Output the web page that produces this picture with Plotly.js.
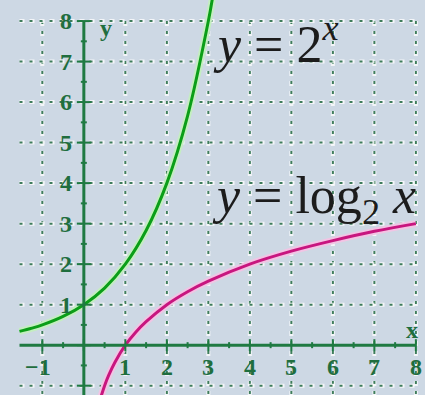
<!DOCTYPE html>
<html>
<head>
<meta charset="utf-8">
<script src="https://cdn.plot.ly/plotly-3.0.1.min.js"></script>
<style>
  html, body { margin: 0; padding: 0; background: #cdd8e4; }
  #chart { width: 425px; height: 395px; }
</style>
</head>
<body>
<div id="chart"></div>
<script>
// Sampled points of y = 2^x
const expX = [-1.55, -1.25, -1, -0.5, 0, 0.5, 1, 1.5, 2, 2.5, 3, 3.1];
const expY = [0.34, 0.42, 0.5, 0.71, 1, 1.41, 2, 2.83, 4, 5.66, 8, 8.57];

// Sampled points of y = log2 x
const logX = [0.42, 0.5, 0.6, 0.75, 1, 1.25, 1.5, 2, 2.5, 3, 4, 5, 6, 7, 8];
const logY = [-1.25, -1, -0.74, -0.42, 0, 0.32, 0.58, 1, 1.32, 1.58, 2, 2.32, 2.58, 2.81, 3];

// Tick labels
const xTickVals = [-1, 1, 2, 3, 4, 5, 6, 7, 8];
const xTickText = ['\u22121', '1', '2', '3', '4', '5', '6', '7', '8'];
const yTickVals = [1, 2, 3, 4, 5, 6, 7, 8];
const yTickText = ['1', '2', '3', '4', '5', '6', '7', '8'];

// Grid extents
const gridXMin = -1.55, gridXMax = 8, gridYMin = -1.35, gridYMax = 8;
const gridXs = [-1, 1, 2, 3, 4, 5, 6, 7, 8];
const gridYs = [-1, 1, 2, 3, 4, 5, 6, 7, 8];

const axisColor = '#1f7a42';
const gridColor = '#3f7d5c';
const labelColor = '#1f6e3e';

const shapes = [];

// dotted grid with a light halo under each dot
function gridLine(x0, y0, x1, y1) {
  shapes.push({type: 'line', xref: 'x', yref: 'y', x0, y0, x1, y1, layer: 'below',
    line: {color: 'rgba(255,255,255,0.75)', width: 4, dash: '5px,5px'}});
  shapes.push({type: 'line', xref: 'x', yref: 'y', x0, y0, x1, y1, layer: 'below',
    line: {color: gridColor, width: 2, dash: '3px,7px'}});
}
gridXs.forEach(v => gridLine(v, gridYMax, v, gridYMin));
gridYs.forEach(v => gridLine(gridXMin, v, gridXMax, v));

// axes
shapes.push({type: 'line', xref: 'x', yref: 'y', x0: gridXMin, y0: 0, x1: gridXMax, y1: 0,
  line: {color: axisColor, width: 3}});
shapes.push({type: 'line', xref: 'x', yref: 'y', x0: 0, y0: gridYMin, x1: 0, y1: gridYMax,
  line: {color: axisColor, width: 3}});

// tick marks (pixel-sized via ysizemode/xsizemode)
for (let v = -1; v <= 8; v += 0.5) {
  const major = Number.isInteger(v);
  const h = major ? 6 : 3;
  shapes.push({type: 'line', xref: 'x', yref: 'y', ysizemode: 'pixel', yanchor: 0,
    x0: v, x1: v, y0: -h, y1: h, line: {color: axisColor, width: 2}});
}
for (let v = -1; v <= 8; v += 0.5) {
  const major = Number.isInteger(v);
  const w = major ? 7 : 3;
  shapes.push({type: 'line', xref: 'x', yref: 'y', xsizemode: 'pixel', xanchor: 0,
    y0: v, y1: v, x0: -w, x1: w, line: {color: axisColor, width: 2}});
}

const tickFont = {family: 'Liberation Serif', size: 24, color: labelColor, weight: 'bold'};
const annotations = [];
xTickVals.forEach((v, i) => annotations.push({
  x: v, y: 0, xref: 'x', yref: 'y', yshift: -22, xshift: v < 0 ? -4 : 0,
  text: xTickText[i], showarrow: false, xanchor: 'center', yanchor: 'middle', font: tickFont
}));
yTickVals.forEach((v, i) => annotations.push({
  x: 0, y: v, xref: 'x', yref: 'y', xshift: -18,
  text: yTickText[i], showarrow: false, xanchor: 'center', yanchor: 'middle', font: tickFont
}));
// axis names
annotations.push({x: 0, y: 8, xref: 'x', yref: 'y', xshift: 22, yshift: -7, text: 'y',
  showarrow: false, font: tickFont});
annotations.push({x: 8, y: 0, xref: 'x', yref: 'y', xshift: -4, yshift: 15, text: 'x',
  showarrow: false, font: tickFont});
// curve names
annotations.push({x: 3.06, y: 7.52, xref: 'x', yref: 'y', xanchor: 'left', yanchor: 'middle',
  text: '<i>y</i> = 2<sup><i>x</i></sup>', showarrow: false,
  font: {family: 'Liberation Serif', size: 52, color: '#1c1c1c'}});
annotations.push({x: 3.04, y: 3.6, xref: 'x', yref: 'y', xanchor: 'left', yanchor: 'middle',
  text: '<i>y</i> = log<sub>2</sub> <i>x</i>', showarrow: false,
  font: {family: 'Liberation Serif', size: 52, color: '#1c1c1c'}});

const halo = (x, y, c) => ({x, y, mode: 'lines', type: 'scatter', hoverinfo: 'skip',
  line: {color: c, width: 7, shape: 'spline'}});
const core = (x, y, c) => ({x, y, mode: 'lines', type: 'scatter', hoverinfo: 'skip',
  line: {color: c, width: 3, shape: 'spline'}});

const data = [
  halo(expX, expY, '#c4eec0'),
  core(expX, expY, '#0b9e18'),
  halo(logX, logY, '#f2c4e4'),
  core(logX, logY, '#c8167f')
];

const layout = {
  width: 425, height: 395,
  margin: {l: 0, r: 0, t: 0, b: 0},
  paper_bgcolor: '#cdd8e4', plot_bgcolor: '#cdd8e4',
  showlegend: false,
  xaxis: {range: [-2.02, 8.22], visible: false, fixedrange: true},
  yaxis: {range: [-1.23, 8.52], visible: false, fixedrange: true},
  shapes, annotations
};

Plotly.newPlot('chart', data, layout, {displayModeBar: false, staticPlot: true});
</script>
</body>
</html>
